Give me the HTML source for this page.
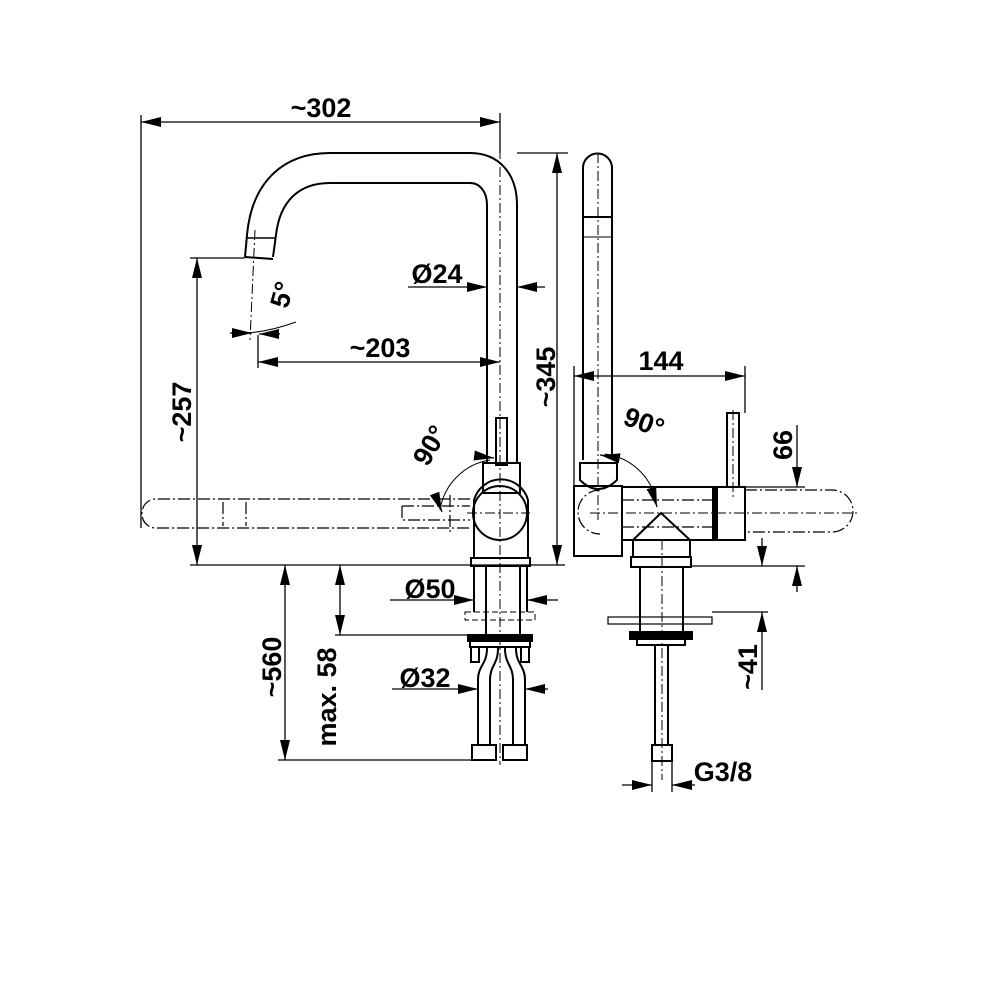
<!DOCTYPE html>
<html><head><meta charset="utf-8"><style>
html,body{margin:0;padding:0;background:#fff}
svg{display:block}
text{font-family:"Liberation Sans",sans-serif;font-size:27px;font-weight:bold;fill:#000}
</style></head><body>
<svg width="1000" height="1000" viewBox="0 0 1000 1000" xmlns="http://www.w3.org/2000/svg">
<defs>
<marker id="a" viewBox="0 0 20 10" refX="20" refY="5" markerWidth="20" markerHeight="10" markerUnits="userSpaceOnUse" orient="auto-start-reverse"><path d="M0,0L20,5L0,10z" fill="#000"/></marker>
</defs>
<g fill="none" stroke="#000" stroke-width="2">
<path d="M245,257 L247,235 C252,180 285,153 330,153 L470,153 C500,153 517,175 517,205 L517,463"/>
<path d="M273,257 L276,235 C280,200 300,183 330,183 L470,183 C480,183 487,192 487,205 L487,463"/>
<line x1="245" y1="257" x2="273" y2="259"/>
<line x1="247" y1="238" x2="276" y2="238" stroke-width="1.5"/>
<rect x="483" y="463" width="37" height="30"/>
<rect x="496" y="418" width="11" height="47"/>
<path d="M474,500 A28,28 0 0 1 528,500 L528,558 L474,558 Z"/>
<circle cx="500" cy="513" r="27"/>
<rect x="471" y="558" width="59" height="8"/>
<line x1="474" y1="566" x2="474" y2="612"/><line x1="527" y1="566" x2="527" y2="612"/>
<line x1="486" y1="566" x2="486" y2="640"/><line x1="520" y1="566" x2="520" y2="640"/>
<rect x="465" y="612" width="70" height="8" stroke-width="1" stroke-dasharray="6,3"/>
<rect x="468" y="635" width="64" height="6" fill="#000"/>
<rect x="470" y="641" width="60" height="6"/>
<rect x="471" y="647" width="8" height="15"/><rect x="521" y="647" width="8" height="15"/>
<path d="M487,648 C487,665 478,665 478,680 L478,745 M498,648 C498,665 490,665 490,680 L490,745"/>
<path d="M505,648 C505,665 513,665 513,680 L513,745 M516,648 C516,665 525,665 525,680 L525,745"/>
<rect x="472" y="745" width="24" height="15"/><rect x="503" y="745" width="24" height="15"/>
<g stroke-width="1.2" stroke-dasharray="12,3,2,3">
<path d="M470,499 L155,499 A14,14 0 0 0 142,513 A14,14 0 0 0 155,528 L470,528"/>
<path d="M223,502 L223,526 M246,502 L246,526"/>
<path d="M402,506 L402,520 L470,520 M402,506 L470,506"/>
<path d="M450,495 L450,533"/>
</g>
<g stroke-width="1" stroke-dasharray="10,3,2,3">
<line x1="500" y1="113" x2="500" y2="765"/>
<line x1="255" y1="230" x2="250" y2="340"/>
<line x1="598" y1="153" x2="598" y2="520"/>
<line x1="662" y1="540" x2="662" y2="780"/>
<line x1="733" y1="410" x2="733" y2="500"/>
<line x1="590" y1="513" x2="860" y2="513"/>
<line x1="467" y1="513" x2="530" y2="513"/>
</g>
<path d="M583,460 L583,168 A14.5,14.5 0 0 1 612,168 L612,460"/>
<line x1="583" y1="217" x2="612" y2="217"/><line x1="583" y1="237" x2="612" y2="237" stroke-width="1"/>
<path d="M580,463 L617,463 L617,480 Q598,498 580,480 Z"/>
<rect x="574" y="486" width="48" height="70"/>
<rect x="622" y="487" width="93" height="53"/>
<rect x="715" y="487" width="30" height="53"/>
<rect x="713" y="487" width="4" height="53" fill="#000"/>
<rect x="727" y="413" width="12" height="74"/>
<path d="M633,540 L633,557 M690,540 L690,557 M633,540 L661,513 L690,540"/>
<rect x="631" y="557" width="60" height="10"/>
<line x1="640" y1="567" x2="640" y2="632"/><line x1="683" y1="567" x2="683" y2="632"/>
<rect x="608" y="617" width="104" height="7" stroke-width="1.2"/>
<rect x="630" y="632" width="62" height="7" fill="#000"/>
<rect x="637" y="639" width="48" height="6"/>
<rect x="655" y="645" width="13" height="100"/>
<rect x="652" y="745" width="20" height="16"/>
<g stroke-width="1.2" stroke-dasharray="12,3,2,3">
<path d="M745,490 L832,490 A20,20 0 0 1 832,532 L745,532"/>
<path d="M622,500 L715,500 M622,527 L715,527"/>
<path d="M600,490 A22,22 0 0 0 600,534"/>
</g>
<path d="M490,460 A60,60 0 0 0 440,510" stroke-width="1"/>
<path d="M605,454 A60,60 0 0 1 656,500" stroke-width="1"/>
<path d="M230,333 Q260,335 296,322" stroke-width="1"/>
</g>
<g fill="none" stroke="#000" stroke-width="1.3">
<line x1="141" y1="115" x2="141" y2="528"/>
<line x1="500" y1="113" x2="500" y2="153"/>
<line x1="141" y1="122" x2="500" y2="122" marker-start="url(#a)" marker-end="url(#a)"/>
<line x1="517" y1="153" x2="568" y2="153"/>
<line x1="557" y1="153" x2="557" y2="565" marker-start="url(#a)" marker-end="url(#a)"/>
<line x1="190" y1="258" x2="245" y2="258"/>
<line x1="197" y1="258" x2="197" y2="565" marker-start="url(#a)" marker-end="url(#a)"/>
<line x1="258" y1="335" x2="258" y2="368"/>
<line x1="258" y1="362" x2="500" y2="362" marker-start="url(#a)" marker-end="url(#a)"/>
<line x1="408" y1="287" x2="487" y2="287" marker-end="url(#a)"/>
<line x1="545" y1="287" x2="517" y2="287" marker-end="url(#a)"/>
<line x1="190" y1="565" x2="565" y2="565"/>
<line x1="285" y1="565" x2="285" y2="760" marker-start="url(#a)" marker-end="url(#a)"/>
<line x1="278" y1="760" x2="475" y2="760"/>
<line x1="340" y1="565" x2="340" y2="635" marker-start="url(#a)" marker-end="url(#a)"/>
<line x1="335" y1="635" x2="470" y2="635"/>
<line x1="390" y1="600" x2="474" y2="600" marker-end="url(#a)"/>
<line x1="558" y1="600" x2="527" y2="600" marker-end="url(#a)"/>
<line x1="392" y1="689" x2="478" y2="689" marker-end="url(#a)"/>
<line x1="548" y1="689" x2="525" y2="689" marker-end="url(#a)"/>
<line x1="574" y1="366" x2="574" y2="486"/>
<line x1="745" y1="366" x2="745" y2="413"/>
<line x1="574" y1="376" x2="745" y2="376" marker-start="url(#a)" marker-end="url(#a)"/>
<line x1="745" y1="487" x2="805" y2="487"/>
<line x1="690" y1="566" x2="805" y2="566"/>
<line x1="797" y1="425" x2="797" y2="487" marker-end="url(#a)"/>
<line x1="797" y1="592" x2="797" y2="566" marker-end="url(#a)"/>
<line x1="712" y1="612" x2="768" y2="612"/>
<line x1="762" y1="538" x2="762" y2="566" marker-end="url(#a)"/>
<line x1="762" y1="690" x2="762" y2="612" marker-end="url(#a)"/>
<line x1="652" y1="761" x2="652" y2="792"/><line x1="672" y1="761" x2="672" y2="792"/>
<line x1="622" y1="785" x2="652" y2="785" marker-end="url(#a)"/>
<line x1="695" y1="785" x2="672" y2="785" marker-end="url(#a)"/>
<line x1="436" y1="497" x2="442" y2="512" marker-end="url(#a)"/>
<line x1="478" y1="456" x2="494" y2="458" marker-end="url(#a)"/>
<line x1="618" y1="458" x2="600" y2="455" marker-end="url(#a)"/>
<line x1="652" y1="490" x2="657" y2="507" marker-end="url(#a)"/>
<line x1="230" y1="333" x2="252" y2="333" marker-end="url(#a)"/>
<line x1="280" y1="334" x2="259" y2="334" marker-end="url(#a)"/>
</g>
<text x="321" y="117" text-anchor="middle">~302</text>
<text x="380" y="357" text-anchor="middle">~203</text>
<text x="437" y="283" text-anchor="middle">Ø24</text>
<text x="430" y="598" text-anchor="middle">Ø50</text>
<text x="425" y="687" text-anchor="middle">Ø32</text>
<text x="661" y="370" text-anchor="middle">144</text>
<text x="723" y="781" text-anchor="middle">G3/8</text>
<text transform="translate(555,377) rotate(-90)" text-anchor="middle">~345</text>
<text transform="translate(191,412) rotate(-90)" text-anchor="middle">~257</text>
<text transform="translate(281,667) rotate(-90)" text-anchor="middle">~560</text>
<text transform="translate(336,697) rotate(-90)" text-anchor="middle">max. 58</text>
<text transform="translate(792,445) rotate(-90)" text-anchor="middle">66</text>
<text transform="translate(757,667) rotate(-90)" text-anchor="middle">~41</text>
<text transform="translate(291,297) rotate(-75)" text-anchor="middle">5°</text>
<text transform="translate(438,450) rotate(-60)" text-anchor="middle">90°</text>
<text transform="translate(641,431) rotate(20)" text-anchor="middle">90°</text>
</svg>
</body></html>
